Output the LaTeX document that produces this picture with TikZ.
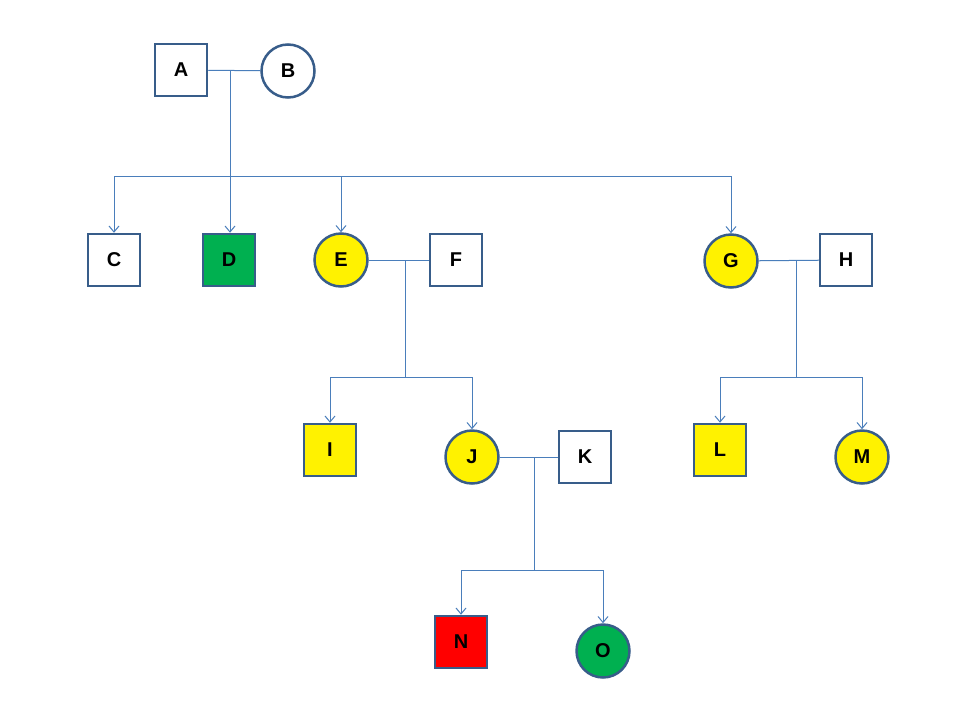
\documentclass[tikz,border=0pt]{standalone}
\usepackage{fontspec}
\setmainfont{Liberation Sans}
\usetikzlibrary{arrows.meta}

\definecolor{edgeblue}{HTML}{385D8A}
\definecolor{lineblue}{HTML}{4A7EBB}
\definecolor{kidgreen}{HTML}{00B050}

\tikzset{
  male/.style={draw=edgeblue, line width=2.5pt, fill=white, minimum size=52pt,
    inner sep=0pt, font=\fontsize{20}{21}\selectfont\bfseries},
  female/.style={male, circle, minimum size=53pt},
  link/.style={draw=lineblue, line width=1pt},
  kid/.style={link, -{Straight Barb[length=6pt,width=10pt]}},
}

\begin{document}
\begin{tikzpicture}[x=1pt, y=-1pt]

  \useasboundingbox (0,0) rectangle (960,720);

  \node (A) [male] at (181,70) {A};
  \node (B) [female] at (288,71) {B};
  \node (C) [male] at (114,260) {C};
  \node (D) [male, fill=kidgreen] at (229,260) {D};
  \node (E) [female, fill=yellow] at (341,260) {E};
  \node (F) [male] at (456,260) {F};
  \node (G) [female, fill=yellow] at (731,261) {G};
  \node (H) [male] at (846,260) {H};
  \node (I) [male, fill=yellow] at (330,450) {I};
  \node (J) [female, fill=yellow] at (472,457) {J};
  \node (K) [male] at (585,457) {K};
  \node (L) [male, fill=yellow] at (720,450) {L};
  \node (M) [female, fill=yellow] at (862,457) {M};
  \node (N) [male, fill=red] at (461,642) {N};
  \node (O) [female, fill=kidgreen] at (603,651) {O};

  % couples
  \coordinate (AB) at (230,71);
  \coordinate (ABk) at (230,176);
  \coordinate (EF) at (405,260);
  \coordinate (EFk) at (405,377);
  \coordinate (GH) at (796,261);
  \coordinate (GHk) at (796,377);
  \coordinate (JK) at (534,457);
  \coordinate (JKk) at (534,570);

  \draw [link] (A) -- (B);
  \draw [link] (E) -- (F);
  \draw [link] (G) -- (H);
  \draw [link] (J) -- (K);

  \draw [link] (AB) -- (ABk);
  \draw [link] (EF) -- (EFk);
  \draw [link] (GH) -- (GHk);
  \draw [link] (JK) -- (JKk);

  % children
  \draw [kid] (ABk) -| (C);
  \draw [kid] (ABk) -- (ABk |- D.north);
  \draw [kid] (ABk) -| (E);
  \draw [kid] (ABk) -| (G);
  \draw [kid] (EFk) -| (I);
  \draw [kid] (EFk) -| (J);
  \draw [kid] (GHk) -| (L);
  \draw [kid] (GHk) -| (M);
  \draw [kid] (JKk) -| (N);
  \draw [kid] (JKk) -| (O);

\end{tikzpicture}
\end{document}
